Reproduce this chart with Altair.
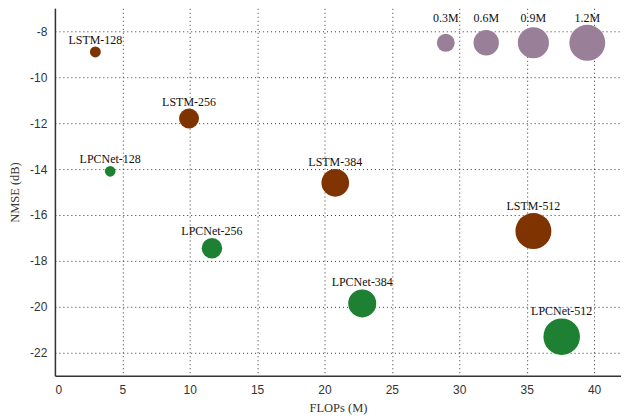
import altair as alt
import pandas as pd

# Models
models = ["LSTM-128", "LSTM-256", "LSTM-384", "LSTM-512",
          "LPCNet-128", "LPCNet-256", "LPCNet-384", "LPCNet-512"]
family = ["LSTM"] * 4 + ["LPCNet"] * 4
flops = [3.0, 9.95, 20.8, 35.5, 4.1, 11.65, 22.8, 37.6]
nmse = [-8.9, -11.8, -14.6, -16.7, -14.1, -17.45, -19.85, -21.3]
params = [0.11, 0.37, 0.71, 1.2, 0.105, 0.39, 0.73, 1.24]

# Size legend bubbles
legend_labels = ["0.3M", "0.6M", "0.9M", "1.2M"]
legend_params = [0.3, 0.6, 0.9, 1.2]
legend_flops = [29.0, 32.0, 35.5, 39.5]
legend_nmse = [-8.5, -8.5, -8.5, -8.5]

x_ticks = [0, 5, 10, 15, 20, 25, 30, 35, 40]
y_ticks = [-8, -10, -12, -14, -16, -18, -20, -22]

W, H = 567, 368
Y_DOM = [-23, -7]
PPU = H / (Y_DOM[1] - Y_DOM[0])
SIZE_MAX = 1296  # symbol size at 1.2M params (radius 18 px)

df = pd.DataFrame({"model": models, "family": family, "flops": flops,
                   "nmse": nmse, "params": params})
leg = pd.DataFrame({"label": legend_labels, "params": legend_params,
                    "flops": legend_flops, "nmse": legend_nmse})

xs = alt.Scale(domain=[0, 42], nice=False, zero=False)
ys = alt.Scale(domain=Y_DOM, nice=False, zero=False)
ss = alt.Scale(domain=[0, 1.2], range=[0, SIZE_MAX], zero=True)
cs = alt.Scale(domain=["LSTM", "LPCNet"], range=["#7f3300", "#1d8033"])

xaxis = alt.Axis(values=x_ticks, title="FLOPs (M)", grid=True, gridDash=[1, 3],
                 gridColor="#333", gridOpacity=1, gridWidth=1,
                 domainColor="#333", domainWidth=1.5, tickColor="#333",
                 tickSize=0, labelFont="Liberation Sans", labelFontSize=12,
                 labelColor="#333", labelPadding=9,
                 titleFont="Liberation Serif", titleFontSize=12.5,
                 titleFontWeight="normal", titleColor="#333", titlePadding=6)
yaxis = alt.Axis(values=y_ticks, title="NMSE (dB)", grid=True, gridDash=[1, 3],
                 gridColor="#333", gridOpacity=1, gridWidth=1,
                 domainColor="#333", domainWidth=1.5, tickColor="#333",
                 tickSize=0, labelFont="Liberation Sans", labelFontSize=12,
                 labelColor="#333", labelPadding=8,
                 labelExpr="'' + datum.value",
                 titleFont="Liberation Serif", titleFontSize=12.5,
                 titleFontWeight="normal", titleColor="#333", titlePadding=8)

points = alt.Chart(df).mark_circle(opacity=1).encode(
    x=alt.X("flops:Q", scale=xs, axis=xaxis),
    y=alt.Y("nmse:Q", scale=ys, axis=yaxis),
    size=alt.Size("params:Q", scale=ss, legend=None),
    color=alt.Color("family:N", scale=cs, legend=None),
)

labels = alt.Chart(df).transform_calculate(
    ly=f"datum.nmse + (sqrt(datum.params / 1.2 * {SIZE_MAX}) / 2 + 3) / {PPU}"
).mark_text(font="Liberation Serif", fontSize=12, color="#111",
            baseline="alphabetic", align="center").encode(
    x=alt.X("flops:Q", scale=xs),
    y=alt.Y("ly:Q", scale=ys),
    text="model:N",
)

leg_points = alt.Chart(leg).mark_circle(opacity=1, color="#9a7f98").encode(
    x=alt.X("flops:Q", scale=xs),
    y=alt.Y("nmse:Q", scale=ys),
    size=alt.Size("params:Q", scale=ss, legend=None),
)

leg_labels = alt.Chart(leg).mark_text(font="Liberation Serif", fontSize=12,
                                      color="#111", baseline="alphabetic",
                                      align="center", dy=-21).encode(
    x=alt.X("flops:Q", scale=xs),
    y=alt.Y("nmse:Q", scale=ys),
    text="label:N",
)

chart = alt.layer(points, labels, leg_points, leg_labels).properties(
    width=W, height=H, padding=0
).configure_view(stroke=None)

chart.save("out.html", embed_options={"renderer": "svg", "actions": False})
